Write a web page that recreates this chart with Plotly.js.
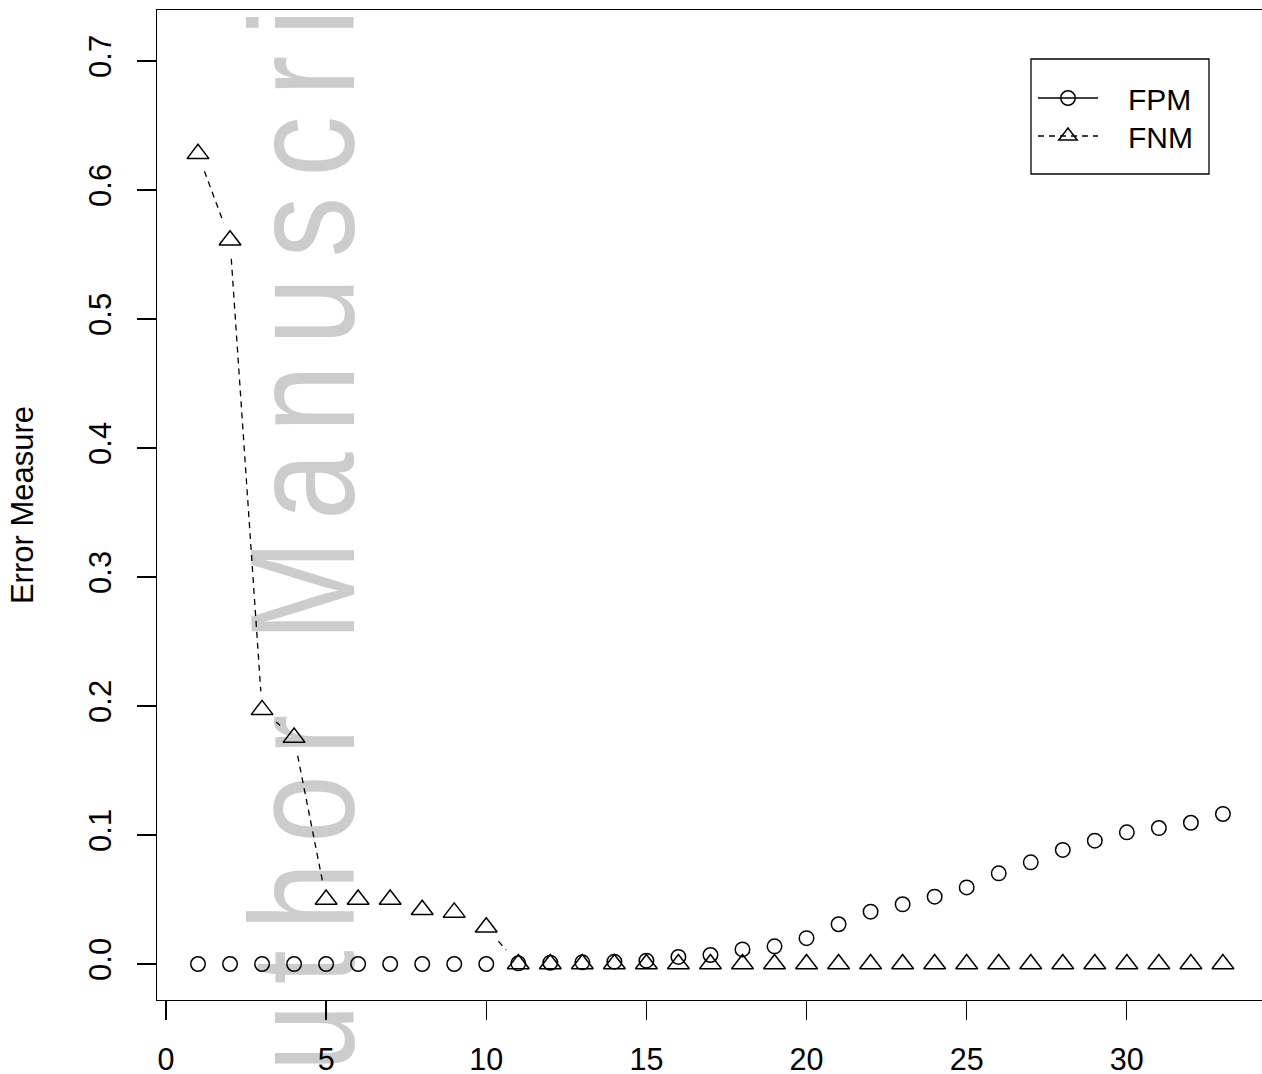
<!DOCTYPE html>
<html>
<head>
<meta charset="utf-8">
<script src="https://cdn.plot.ly/plotly-3.0.1.min.js"></script>
<style>
html,body{margin:0;padding:0;background:#fff;}
#chart .layer-below text{letter-spacing:24.4px;}
</style>
</head>
<body>
<div id="chart" style="width:1262px;height:1074px;"></div>
<script>
// ---- data ----
const xValues = [1,2,3,4,5,6,7,8,9,10,11,12,13,14,15,16,17,18,19,20,21,22,23,24,25,26,27,28,29,30,31,32,33];
const fpmValues = [0,0,0,0,0,0,0,0,0,0,0.0005,0.001,0.0013,0.0018,0.0026,0.0055,0.007,0.0113,0.0137,0.0200,0.0308,0.0406,0.0463,0.0522,0.0594,0.0703,0.0788,0.0884,0.0956,0.1021,0.1054,0.1095,0.1163];
const fnmValues = [0.628,0.561,0.197,0.1755,0.050,0.050,0.050,0.042,0.040,0.0285,0,0,0,0,0,0,0,0,0,0,0,0,0,0,0,0,0,0,0,0,0,0,0];
const seriesNames = ['FPM', 'FNM'];
const xTickVals = [0,5,10,15,20,25,30];
const yTickVals = [0,0.1,0.2,0.3,0.4,0.5,0.6,0.7];
const yTickText = ['0.0','0.1','0.2','0.3','0.4','0.5','0.6','0.7'];
const yTitle = 'Error Measure';
const watermarkText = 'Author Manuscript';

// ---- geometry of the plotting region ----
const W = 1262, H = 1074;
const mL = 157, mR = 0, mT = 10, mB = 74;
const PW = W - mL - mR, PH = H - mT - mB;
const xRange = [-0.28, 34.22];
const yRange = [-0.0279, 0.7395];
const sx = PW / (xRange[1] - xRange[0]);
const sy = PH / (yRange[1] - yRange[0]);
const px2paperX = p => (p - mL) / PW;
const px2paperY = p => (H - mB - p) / PH;

// R type="b": line segments with gaps around the points
function gapSegments(xs, ys, gap) {
  const gx = [], gy = [];
  for (let i = 0; i < xs.length - 1; i++) {
    const ddx = xs[i+1] - xs[i], ddy = ys[i+1] - ys[i];
    const L = Math.hypot(ddx * sx, ddy * sy);
    if (L > 2 * gap) {
      const f = gap / L;
      gx.push(xs[i] + f * ddx, xs[i+1] - f * ddx, null);
      gy.push(ys[i] + f * ddy, ys[i+1] - f * ddy, null);
    }
  }
  return {x: gx, y: gy};
}
const GAP = 18.5;
const fpmSeg = gapSegments(xValues, fpmValues, GAP);
const fnmSeg = gapSegments(xValues, fnmValues, GAP);

const FONT = 'Liberation Sans, Arial, Helvetica, sans-serif';
const LW = 1.3;
const NB = '\u00a0\u00a0\u00a0';

const circleMarker = {symbol: 'circle-open', size: 14.5, color: 'black', line: {width: 1.5, color: 'black'}};
const triMarker = {symbol: 'triangle-up-open', size: 19, color: 'black', line: {width: 1.5, color: 'black'}};

const traces = [
  {x: fpmSeg.x, y: fpmSeg.y, mode: 'lines', line: {color: 'black', width: LW}, showlegend: false, hoverinfo: 'skip'},
  {x: fnmSeg.x, y: fnmSeg.y, mode: 'lines', line: {color: 'black', width: LW, dash: '6px,5px'}, showlegend: false, hoverinfo: 'skip'},
  {x: xValues, y: fpmValues, mode: 'markers', marker: circleMarker, showlegend: false, name: seriesNames[0]},
  {x: xValues, y: fnmValues, mode: 'markers', marker: triMarker, showlegend: false, name: seriesNames[1]},
  // legend entries
  {x: [null], y: [null], mode: 'lines+markers', name: NB + seriesNames[0], legend: 'legend',
   line: {color: 'black', width: LW}, marker: circleMarker},
  {x: [null], y: [null], mode: 'lines+markers', name: NB + seriesNames[1], legend: 'legend2',
   line: {color: 'black', width: LW, dash: '6px,5px'}, marker: triMarker}
];

const legendBase = {
  xanchor: 'left', yanchor: 'middle',
  bgcolor: 'rgba(0,0,0,0)', borderwidth: 0,
  font: {family: FONT, size: 30, color: 'black'},
  itemwidth: 60
};

const layout = {
  width: W, height: H,
  margin: {l: mL, r: mR, t: mT, b: mB, pad: 0},
  paper_bgcolor: 'white',
  plot_bgcolor: 'rgba(0,0,0,0)',
  font: {family: FONT, color: 'black', size: 31},
  showlegend: true,
  legend: Object.assign({}, legendBase, {x: px2paperX(1033), y: px2paperY(98)}),
  legend2: Object.assign({}, legendBase, {x: px2paperX(1033), y: px2paperY(136)}),
  xaxis: {
    range: xRange, tickmode: 'array', tickvals: xTickVals,
    ticks: 'outside', ticklen: 19, tickwidth: LW, tickcolor: 'black',
    showline: true, linewidth: LW, linecolor: 'black', mirror: true,
    showgrid: false, zeroline: false,
    tickfont: {family: FONT, size: 30.5, color: 'black'},
    ticklabelstandoff: 13
  },
  yaxis: {
    range: yRange, tickmode: 'array', tickvals: yTickVals, ticktext: yTickText,
    tickangle: -90,
    ticks: 'outside', ticklen: 19, tickwidth: LW, tickcolor: 'black',
    showline: true, linewidth: LW, linecolor: 'black',
    showgrid: false, zeroline: false,
    tickfont: {family: FONT, size: 31, color: 'black'},
    ticklabelstandoff: 13,
    title: {text: yTitle, font: {family: FONT, size: 31, color: 'black'}, standoff: 40}
  },
  shapes: [
    {
      type: 'rect', xref: 'paper', yref: 'paper', layer: 'below',
      x0: px2paperX(289 - 80), x1: px2paperX(289 + 80),
      y0: px2paperY(510 + 300), y1: px2paperY(510 - 300),
      line: {width: 0}, fillcolor: 'rgba(0,0,0,0)',
      label: {text: watermarkText, textangle: -90, textposition: 'middle center',
              font: {family: FONT, size: 148, color: '#cccccc'}}
    },
    {
      // legend frame
      type: 'rect', xref: 'paper', yref: 'paper', layer: 'above',
      x0: px2paperX(1031), x1: px2paperX(1209),
      y0: px2paperY(174), y1: px2paperY(59),
      line: {width: LW, color: 'black'}, fillcolor: 'rgba(0,0,0,0)'
    }
  ]
};

Plotly.newPlot('chart', traces, layout, {staticPlot: true, displayModeBar: false}).then(() => {
  // narrow the watermark glyphs along the text direction (condensed face of the original)
  const t = document.querySelector('#chart .layer-below text');
  if (t) {
    const ax = parseFloat(t.getAttribute('x')) || 0;
    const tr = t.getAttribute('transform') || '';
    t.setAttribute('transform', tr + ' translate(' + ax + ',0) scale(0.82,1) translate(' + (-ax) + ',0)');
  }
});
</script>
</body>
</html>
